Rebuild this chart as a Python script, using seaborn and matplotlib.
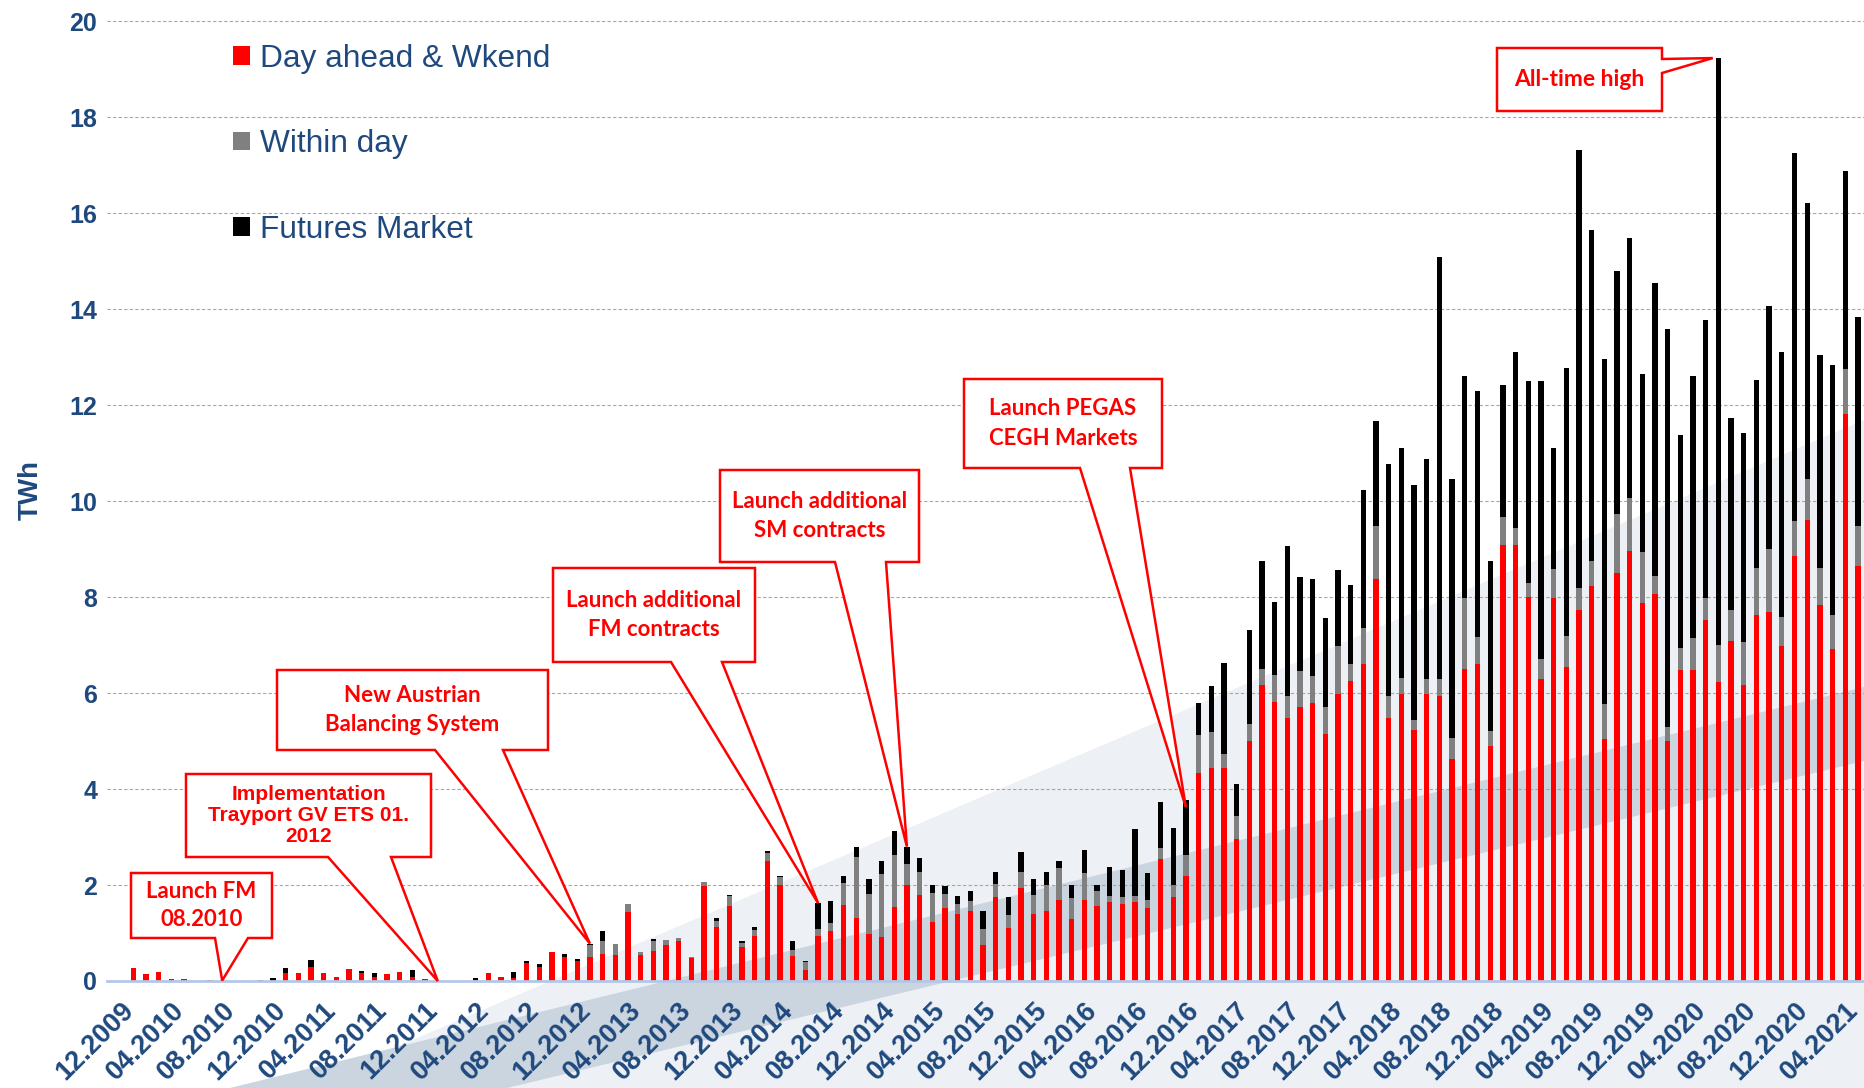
import pandas as pd
import matplotlib
matplotlib.use("Agg")
import matplotlib.pyplot as plt
from matplotlib.patches import Patch, Polygon
import seaborn as sns

# monthly traded volumes in TWh, 12.2009 ... 05.2021
months = pd.date_range("2009-12-01", periods=138, freq="MS").strftime("%m.%Y").tolist()

day_ahead = [
    0.00,
    0.28, 0.14, 0.19, 0.035, 0.05, 0.00, 0.03, 0.01, 0.00, 0.00, 0.03, 0.01,
    0.17, 0.16, 0.30, 0.16, 0.08, 0.24, 0.17, 0.08, 0.14, 0.19, 0.09, 0.035,
    0.00, 0.00, 0.00, 0.03, 0.17, 0.08, 0.06, 0.38, 0.30, 0.60, 0.51, 0.41,
    0.51, 0.57, 0.54, 1.44, 0.54, 0.63, 0.76, 0.83, 0.47, 1.98, 1.13, 1.56,
    0.70, 0.94, 2.49, 2.00, 0.52, 0.22, 0.94, 1.05, 1.58, 1.32, 0.97, 0.92,
    1.54, 1.99, 1.80, 1.22, 1.53, 1.40, 1.45, 0.76, 1.75, 1.11, 1.93, 1.40,
    1.45, 1.69, 1.29, 1.69, 1.56, 1.64, 1.61, 1.64, 1.53, 2.54, 1.74, 2.19,
    4.33, 4.44, 4.44, 2.96, 5.00, 6.16, 5.82, 5.47, 5.70, 5.79, 5.14, 5.99,
    6.26, 6.61, 8.38, 5.47, 5.97, 5.23, 5.99, 5.94, 4.62, 6.51, 6.61, 4.89,
    9.09, 9.09, 8.00, 6.30, 7.99, 6.54, 7.74, 8.23, 5.04, 8.51, 8.96, 7.87,
    8.06, 5.00, 6.47, 6.47, 7.53, 6.24, 7.09, 6.17, 7.63, 7.68, 6.99, 8.86,
    9.61, 7.84, 6.92, 11.81, 8.65,
]

within_day = [
    0.00,
    0.00, 0.00, 0.00, 0.00, 0.00, 0.00, 0.00, 0.00, 0.00, 0.00, 0.00, 0.00,
    0.00, 0.00, 0.00, 0.00, 0.00, 0.00, 0.00, 0.00, 0.00, 0.00, 0.00, 0.00,
    0.00, 0.00, 0.00, 0.00, 0.00, 0.00, 0.00, 0.00, 0.00, 0.00, 0.00, 0.00,
    0.24, 0.26, 0.24, 0.16, 0.06, 0.21, 0.10, 0.06, 0.02, 0.08, 0.13, 0.21,
    0.10, 0.13, 0.17, 0.16, 0.12, 0.17, 0.15, 0.16, 0.47, 1.27, 0.85, 1.30,
    1.08, 0.44, 0.48, 0.61, 0.29, 0.21, 0.21, 0.32, 0.28, 0.26, 0.35, 0.40,
    0.56, 0.67, 0.43, 0.56, 0.32, 0.13, 0.13, 0.13, 0.16, 0.24, 0.27, 0.43,
    0.80, 0.75, 0.29, 0.48, 0.36, 0.35, 0.55, 0.47, 0.76, 0.57, 0.56, 1.00,
    0.35, 0.75, 1.11, 0.47, 0.35, 0.20, 0.30, 0.35, 0.45, 1.48, 0.56, 0.32,
    0.57, 0.35, 0.29, 0.40, 0.59, 0.65, 0.45, 0.53, 0.73, 1.21, 1.10, 1.07,
    0.38, 0.29, 0.46, 0.67, 0.46, 0.76, 0.65, 0.90, 0.98, 1.33, 0.59, 0.72,
    0.86, 0.76, 0.70, 0.94, 0.84,
]

futures = [
    0.00,
    0.00, 0.00, 0.00, 0.00, 0.00, 0.00, 0.00, 0.00, 0.00, 0.00, 0.00, 0.05,
    0.10, 0.00, 0.14, 0.00, 0.00, 0.00, 0.03, 0.08, 0.00, 0.00, 0.13, 0.00,
    0.00, 0.00, 0.00, 0.03, 0.00, 0.00, 0.13, 0.03, 0.05, 0.00, 0.05, 0.05,
    0.03, 0.22, 0.00, 0.00, 0.00, 0.03, 0.00, 0.00, 0.00, 0.00, 0.05, 0.02,
    0.03, 0.05, 0.05, 0.03, 0.19, 0.02, 0.53, 0.46, 0.14, 0.21, 0.31, 0.29,
    0.51, 0.37, 0.29, 0.16, 0.16, 0.16, 0.22, 0.38, 0.24, 0.38, 0.40, 0.32,
    0.26, 0.15, 0.29, 0.48, 0.13, 0.61, 0.58, 1.39, 0.56, 0.94, 1.17, 1.15,
    0.67, 0.96, 1.90, 0.67, 1.96, 2.24, 1.52, 3.13, 1.96, 2.02, 1.86, 1.58,
    1.64, 2.88, 2.18, 4.83, 4.78, 4.91, 4.58, 8.79, 5.38, 4.61, 5.13, 3.54,
    2.75, 3.67, 4.21, 5.80, 2.53, 5.58, 9.12, 6.88, 7.18, 5.08, 5.43, 3.71,
    6.11, 8.30, 4.45, 5.46, 5.79, 12.23, 4.00, 4.34, 3.92, 5.06, 5.53, 7.67,
    5.73, 4.44, 5.21, 4.13, 4.35,
]

series_names = ["Day ahead & Wkend", "Within day", "Futures Market"]
series_colors = ["#FF0000", "#808080", "#000000"]

df = pd.DataFrame({"month": months, "day_ahead": day_ahead,
                   "within_day": within_day, "futures": futures})
df["dw"] = df["day_ahead"] + df["within_day"]
df["total"] = df["dw"] + df["futures"]

BLUE = "#1F497D"
sns.set_style("white")
plt.rcParams["font.family"] = ["Liberation Sans", "DejaVu Sans"]

W, H = 1864, 1088
fig = plt.figure(figsize=(W / 100, H / 100), dpi=100)
fig.patch.set_facecolor("white")

# soft background swoosh
def fig_poly(pts, color):
    p = Polygon([(x / W, 1 - y / H) for x, y in pts], closed=True,
                transform=fig.transFigure, facecolor=color, edgecolor="none", zorder=-2)
    fig.add_artist(p)

fig_poly([(300, 1088), (1864, 420), (1864, 1088)], "#EDF0F4")
fig_poly([(230, 1088), (1864, 687), (1864, 761), (507, 1088)], "#CBD5DF")

ax = fig.add_axes([106.8 / W, (H - 981) / H, (W - 106.8) / W, 981 / H])
ax.set_facecolor("none")

# stacked bars: draw cumulative totals, then overlay lower parts
for col, color in [("total", series_colors[2]), ("dw", series_colors[1]), ("day_ahead", series_colors[0])]:
    sns.barplot(data=df, x="month", y=col, order=months, color=color, saturation=1,
                width=0.42, errorbar=None, linewidth=0, ax=ax)

ax.set_xlim(-1.1, 137.48)
ax.set_ylim(0, 20.44)
ax.set_xlabel("")
ax.set_ylabel("TWh", fontsize=20, fontweight="bold", color=BLUE)
ax.yaxis.set_label_coords(-0.036, 0.5)

ax.set_yticks(range(0, 21, 2))
ax.set_yticklabels([str(v) for v in range(0, 21, 2)], fontsize=18, fontweight="bold", color=BLUE)
ax.set_xticks(range(0, len(months), 4))
ax.set_xticklabels(months[::4], rotation=45, ha="right", rotation_mode="anchor",
                   fontsize=19.5, fontweight="bold", color=BLUE)
ax.tick_params(axis="y", length=0, pad=7)
ax.tick_params(axis="x", length=5, width=1.5, color="#B4C7E7", pad=7)

ax.set_axisbelow(True)
ax.yaxis.grid(True, linestyle=(0, (3, 2)), color="#A6A6A6", linewidth=0.8)
ax.xaxis.grid(False)
for s in ["left", "top", "right"]:
    ax.spines[s].set_visible(False)
ax.spines["bottom"].set_color("#B4C7E7")
ax.spines["bottom"].set_linewidth(2)

handles = [Patch(facecolor=c, edgecolor="none") for c in series_colors]
ax.legend(handles, series_names, loc="center left", bbox_to_anchor=(0.063, 0.853),
          frameon=False, fontsize=22.8, labelcolor=BLUE, labelspacing=1.75,
          handlelength=0.53, handleheight=0.53, handletextpad=0.3, borderpad=0)

# callouts (box in pixels, pointer to the bar)
inv = ax.transData.inverted()
def px(x, y):
    return tuple(inv.transform((x, H - y)))

callouts = [
    ("Launch FM\n08.2010", (131, 873, 272, 938), (215, 248), 8, 0.0, "Lato", 1.4),
    ("Implementation\nTrayport GV ETS 01.\n2012", (186, 774, 431, 857), (328, 391), 25, 0.0, "Liberation Sans", 1.15),
    ("New Austrian\nBalancing System", (277, 670, 548, 750), (435, 503), 37, 0.0, "Lato", 1.5),
    ("Launch additional\nFM contracts", (553, 568, 755, 662), (671, 722), 55, 0.0, "Lato", 1.5),
    ("Launch additional\nSM contracts", (720, 470, 919, 562), (835, 886), 62, 0.0, "Lato", 1.5),
    ("Launch PEGAS\nCEGH Markets", (964, 379, 1162, 468), (1080, 1130), 84, -0.15, "Lato", 1.5),
]
for text, (x0, y0, x1, y1), (b0, b1), bar, dy, font, ls in callouts:
    tip = (bar, df["total"][bar] + dy)
    pts = [px(x0, y0), px(x1, y0), px(x1, y1), px(b1, y1), tip, px(b0, y1), px(x0, y1)]
    ax.add_patch(Polygon(pts, closed=True, facecolor="white", edgecolor="#FF0000",
                         linewidth=1.8, zorder=5, clip_on=False))
    cx, cy = px((x0 + x1) / 2, (y0 + y1) / 2)
    size = 15 if font == "Liberation Sans" else 16
    ax.text(cx, cy, text, ha="center", va="center", fontsize=size, fontweight="bold",
            color="#FF0000", family=[font, "DejaVu Sans"], linespacing=ls, zorder=6)

peak = int(df["total"].idxmax())
x0, y0, x1, y1 = 1497, 48, 1662, 111
pts = [px(x0, y0), px(x1, y0), px(x1, 59), (peak - 0.45, df["total"][peak]),
       px(x1, 73), px(x1, y1), px(x0, y1)]
ax.add_patch(Polygon(pts, closed=True, facecolor="white", edgecolor="#FF0000",
                     linewidth=1.8, zorder=5, clip_on=False))
cx, cy = px((x0 + x1) / 2, (y0 + y1) / 2)
ax.text(cx, cy, "All-time high", ha="center", va="center", fontsize=16.5, fontweight="bold",
        color="#FF0000", family=["Lato", "DejaVu Sans"], zorder=6)

fig.savefig("out.png", dpi=100)
